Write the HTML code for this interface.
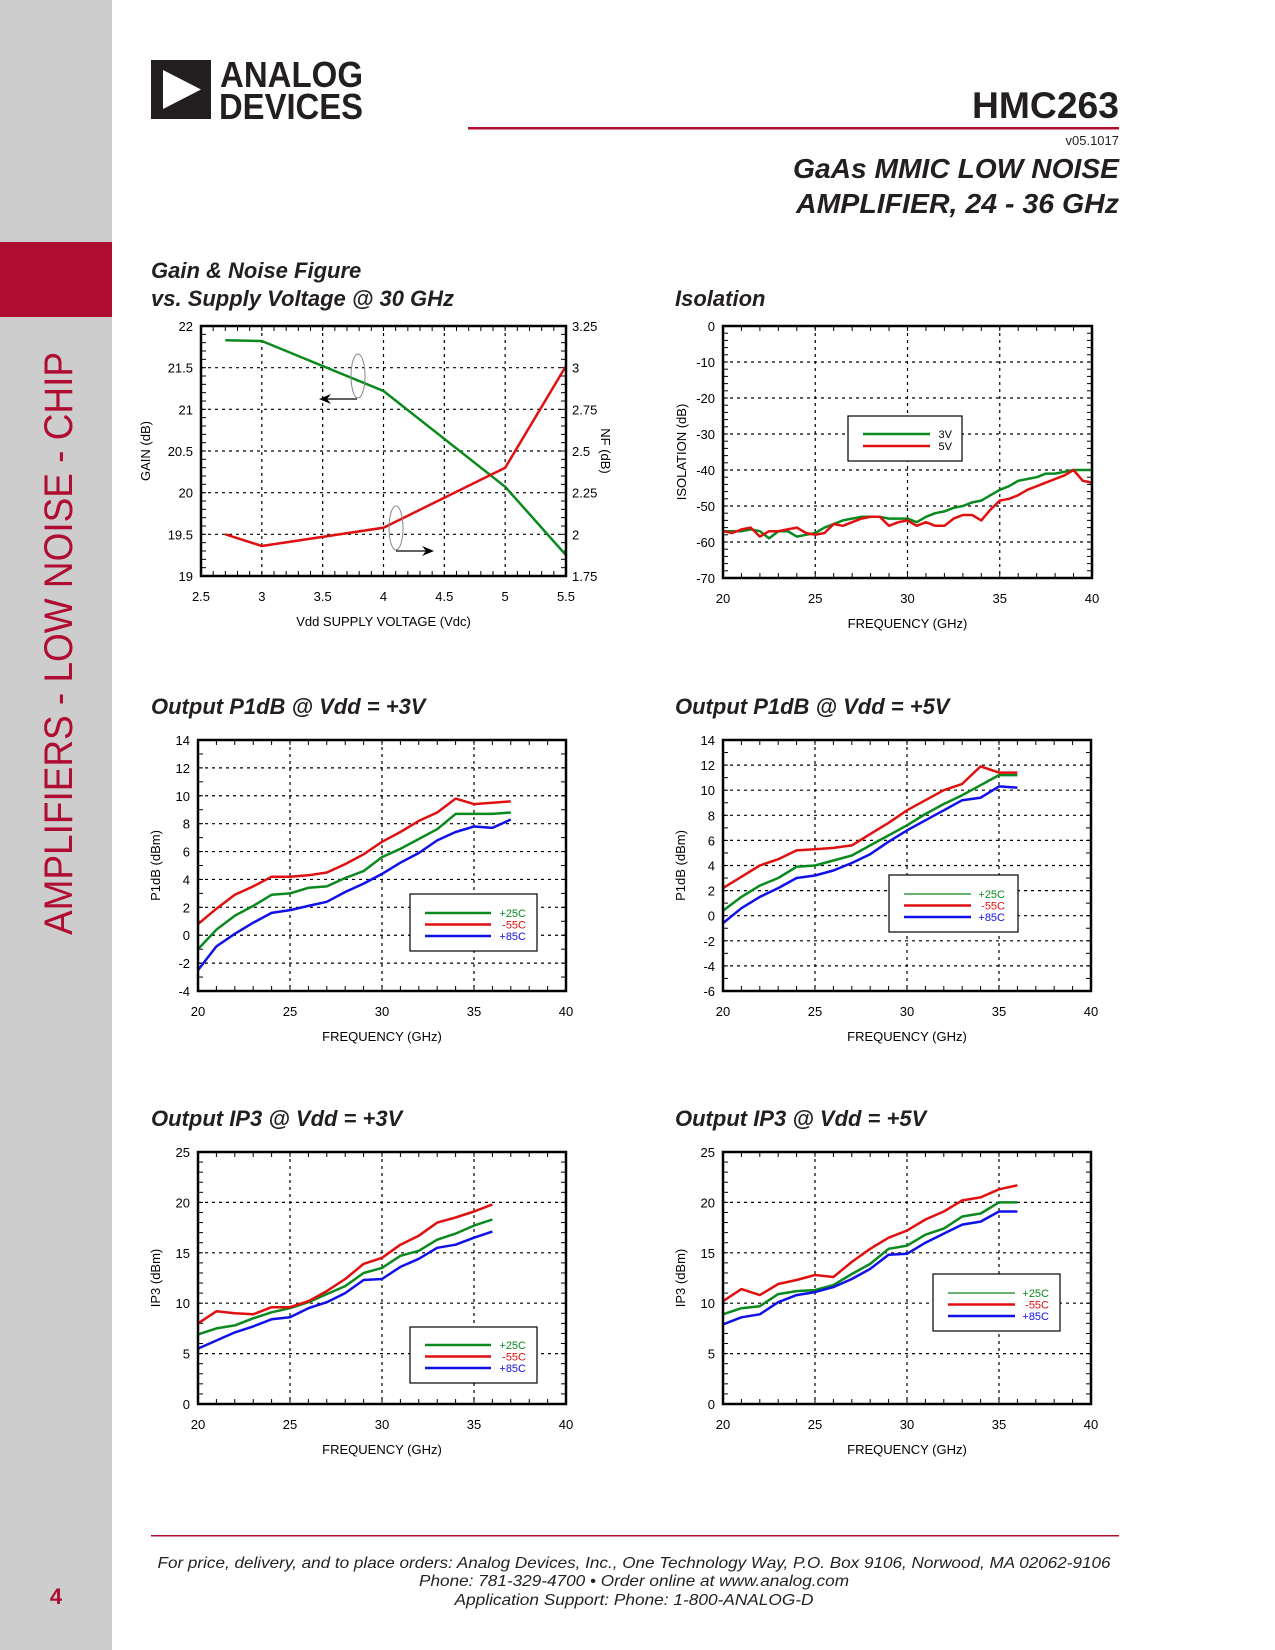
<!DOCTYPE html>
<html><head><meta charset="utf-8"><style>
body{margin:0;width:1275px;height:1650px;position:relative;background:#fff;font-family:"Liberation Sans",sans-serif;overflow:hidden}
svg{position:absolute;left:0;top:0}
</style></head><body>
<svg id="page" width="1275" height="1650" viewBox="0 0 1275 1650" font-family="Liberation Sans, sans-serif">
<rect x="0" y="0" width="112" height="1650" fill="#cdcdcd"/>
<rect x="0" y="242" width="112" height="75" fill="#b00d33"/>
<text transform="translate(72,935) rotate(-90)" font-size="40" fill="#b00d33" textLength="583" lengthAdjust="spacingAndGlyphs">AMPLIFIERS - LOW NOISE - CHIP</text>
<text x="56" y="1604" font-size="22" font-weight="bold" fill="#b00d33" text-anchor="middle">4</text>
<g>
<rect x="151" y="60" width="60" height="59" fill="#231f20"/>
<polygon points="163,70 163,109 201,89.5" fill="#fff"/>
<text x="220" y="87" font-size="36" font-weight="bold" fill="#231f20" textLength="143" lengthAdjust="spacingAndGlyphs">ANALOG</text>
<text x="219" y="119" font-size="36" font-weight="bold" fill="#231f20" textLength="144" lengthAdjust="spacingAndGlyphs">DEVICES</text>
</g>
<text x="1119" y="118" font-size="37" font-weight="bold" fill="#231f20" text-anchor="end" textLength="147" lengthAdjust="spacingAndGlyphs">HMC263</text>
<rect x="468" y="127" width="651" height="2.5" fill="#b00d33"/>
<text x="1119" y="145" font-size="13" fill="#231f20" text-anchor="end">v05.1017</text>
<text x="1119" y="178" font-size="28" font-weight="bold" font-style="italic" fill="#231f20" text-anchor="end" textLength="326" lengthAdjust="spacingAndGlyphs">GaAs MMIC LOW NOISE</text>
<text x="1119" y="213" font-size="28" font-weight="bold" font-style="italic" fill="#231f20" text-anchor="end" textLength="323" lengthAdjust="spacingAndGlyphs">AMPLIFIER, 24 - 36 GHz</text>
<text x="151" y="278" font-size="22" font-weight="bold" font-style="italic" fill="#231f20">Gain &amp; Noise Figure</text>
<text x="151" y="306" font-size="22" font-weight="bold" font-style="italic" fill="#231f20">vs. Supply Voltage @ 30 GHz</text>
<text x="675" y="306" font-size="22" font-weight="bold" font-style="italic" fill="#231f20">Isolation</text>
<text x="151" y="714" font-size="22" font-weight="bold" font-style="italic" fill="#231f20">Output P1dB @ Vdd = +3V</text>
<text x="675" y="714" font-size="22" font-weight="bold" font-style="italic" fill="#231f20">Output P1dB @ Vdd = +5V</text>
<text x="151" y="1126" font-size="22" font-weight="bold" font-style="italic" fill="#231f20">Output IP3 @ Vdd = +3V</text>
<text x="675" y="1126" font-size="22" font-weight="bold" font-style="italic" fill="#231f20">Output IP3 @ Vdd = +5V</text>
<rect x="151" y="1535" width="968" height="1.5" fill="#b00d33"/>
<g font-size="16" font-style="italic" fill="#231f20" text-anchor="middle">
<text x="634" y="1568" textLength="953" lengthAdjust="spacingAndGlyphs">For price, delivery, and to place orders: Analog Devices, Inc., One Technology Way, P.O. Box 9106, Norwood, MA 02062-9106</text>
<text x="634" y="1586" textLength="430" lengthAdjust="spacingAndGlyphs">Phone: 781-329-4700 • Order online at www.analog.com</text>
<text x="634" y="1605" textLength="359" lengthAdjust="spacingAndGlyphs">Application Support: Phone: 1-800-ANALOG-D</text>
</g>
<g id="charts"></g>
</svg>
<script>
// ---- Gain & NF ----
const gainVdd=[2.7,3,4,5,5.5];
const gainVals=[21.83,21.82,21.22,20.07,19.25];
const nfVals=[2.0,1.93,2.04,2.4,3.01];
const gainTicks=["19","19.5","20","20.5","21","21.5","22"];
const nfTicks=["1.75","2","2.25","2.5","2.75","3","3.25"];
const vddTicks=["2.5","3","3.5","4","4.5","5","5.5"];
// ---- Isolation ----
const isoFreq=[20,20.5,21,21.5,22,22.5,23,23.5,24,24.5,25,25.5,26,26.5,27,27.5,28,28.5,29,29.5,30,30.5,31,31.5,32,32.5,33,33.5,34,34.5,35,35.5,36,36.5,37,37.5,38,38.5,39,39.5,40];
const iso3V=[-57,-57,-57,-56.5,-57,-59,-57,-57,-58.5,-58,-57.5,-56,-55,-54,-53.5,-53,-53,-53,-53.5,-53.5,-53.5,-54.5,-53,-52,-51.5,-50.5,-50,-49,-48.5,-47,-45.5,-44.5,-43,-42.5,-42,-41,-41,-40.5,-40,-40,-40];
const iso5V=[-57,-57.5,-56.5,-56,-58.5,-57,-57,-56.5,-56,-57.5,-58,-57.5,-55,-55.5,-54.5,-53.5,-53,-53,-55.5,-54.5,-54,-55.5,-54.5,-55.5,-55.5,-53.5,-52.5,-52.5,-54,-51,-48.5,-48,-47,-45.5,-44.5,-43.5,-42.5,-41.5,-40,-43,-43.5];
const isoTicks=["-70","-60","-50","-40","-30","-20","-10","0"];
const freqTicks=["20","25","30","35","40"];
// ---- P1dB ----
const p1Freq3=[20,21,22,23,24,25,26,27,28,29,30,31,32,33,34,35,36,37];
const p1_3V_25=[-1,0.4,1.4,2.1,2.9,3,3.4,3.5,4.1,4.6,5.6,6.2,6.9,7.6,8.7,8.7,8.7,8.8];
const p1_3V_m55=[0.8,1.9,2.9,3.5,4.2,4.2,4.3,4.5,5.1,5.8,6.7,7.4,8.2,8.8,9.8,9.4,9.5,9.6];
const p1_3V_85=[-2.5,-0.8,0.1,0.9,1.6,1.8,2.1,2.4,3.1,3.7,4.4,5.2,5.9,6.8,7.4,7.8,7.7,8.3];
const p1Ticks3=["-4","-2","0","2","4","6","8","10","12","14"];
const p1Freq5=[20,21,22,23,24,25,26,27,28,29,30,31,32,33,34,35,36];
const p1_5V_25=[0.4,1.5,2.4,3,3.9,4,4.4,4.8,5.6,6.4,7.2,8.1,8.9,9.6,10.4,11.2,11.2];
const p1_5V_m55=[2.2,3.1,4,4.5,5.2,5.3,5.4,5.6,6.5,7.4,8.4,9.2,10,10.5,11.9,11.4,11.4];
const p1_5V_85=[-0.6,0.6,1.5,2.2,3,3.2,3.6,4.2,4.9,5.9,6.8,7.6,8.4,9.2,9.4,10.3,10.2];
const p1Ticks5=["-6","-4","-2","0","2","4","6","8","10","12","14"];
// ---- IP3 ----
const ipFreq=[20,21,22,23,24,25,26,27,28,29,30,31,32,33,34,35,36];
const ip_3V_25=[6.9,7.5,7.8,8.5,9.1,9.5,10.1,10.9,11.7,13,13.5,14.7,15.2,16.3,16.9,17.7,18.3];
const ip_3V_m55=[8,9.2,9,8.9,9.6,9.6,10.2,11.2,12.4,13.9,14.5,15.8,16.7,18,18.5,19.1,19.8];
const ip_3V_85=[5.5,6.3,7.1,7.7,8.4,8.6,9.5,10.1,11,12.3,12.4,13.6,14.4,15.5,15.8,16.5,17.1];
const ip_5V_25=[8.9,9.5,9.7,10.9,11.2,11.3,11.8,12.9,13.9,15.4,15.7,16.8,17.4,18.6,18.9,20,20];
const ip_5V_m55=[10.2,11.4,10.8,11.9,12.3,12.8,12.6,14.1,15.4,16.5,17.2,18.3,19.1,20.2,20.5,21.3,21.7];
const ip_5V_85=[7.9,8.6,8.9,10.1,10.8,11.1,11.6,12.4,13.4,14.8,14.9,16,16.9,17.8,18.1,19.1,19.1];
const ipTicks=["0","5","10","15","20","25"];
const tempLabels=["+25C","-55C","+85C"];

const NS="http://www.w3.org/2000/svg";
const root=document.getElementById('charts');
function mk(tag,attrs,parent){const e=document.createElementNS(NS,tag);for(const k in attrs)e.setAttribute(k,attrs[k]);(parent||root).appendChild(e);return e;}
const GREEN="#0a8a1e",RED="#e01010",BLUE="#1010e8";

function chart(o){
  const g=mk('g',{});
  
  
  const L=o.L,R=o.R,T=o.T,B=o.B;
  const xs=v=>L+(v-o.xmin)/(o.xmax-o.xmin)*(R-L);
  const ys=v=>B-(v-o.ymin)/(o.ymax-o.ymin)*(B-T);
  const xt=o.xTicks.map(Number), yt=o.yTicks.map(Number);
  xt.forEach((v,i)=>{
    if(i>0&&i<xt.length-1){const l=mk('line',{x1:xs(v),x2:xs(v),y1:T,y2:B,stroke:'#000','stroke-width':1.2,'stroke-dasharray':'3,4'},g);
      }
    const t=mk('text',{x:xs(v),y:B+25,'font-size':13,'text-anchor':'middle',fill:'#000'},g);t.textContent=o.xTicks[i];
    
  });
  yt.forEach((v,i)=>{
    if(i>0&&i<yt.length-1){const l=mk('line',{x1:L,x2:R,y1:ys(v),y2:ys(v),stroke:'#000','stroke-width':1.2,'stroke-dasharray':'3,4'},g);
      }
    const t=mk('text',{x:L-8,y:ys(v)+5,'font-size':13,'text-anchor':'end',fill:'#000'},g);t.textContent=o.yTicks[i];
    
  });
  const mx=o.minorX;
  for(let v=o.xmin;v<=o.xmax+1e-9;v+=mx){mk('line',{x1:xs(v),x2:xs(v),y1:B,y2:B-5,stroke:'#000','stroke-width':1},g);mk('line',{x1:xs(v),x2:xs(v),y1:T,y2:T+5,stroke:'#000','stroke-width':1},g);}
  const my=o.minorY;
  for(let v=o.ymin;v<=o.ymax+1e-9;v+=my){mk('line',{x1:L,x2:L+5,y1:ys(v),y2:ys(v),stroke:'#000','stroke-width':1},g);mk('line',{x1:R,x2:R-5,y1:ys(v),y2:ys(v),stroke:'#000','stroke-width':1},g);}
  o.series.forEach(s=>{
    const sy=s.ys||ys;
    const d=s.x.map((v,i)=>(i?'L':'M')+xs(v).toFixed(1)+','+sy(s.y[i]).toFixed(1)).join(' ');
    const p=mk('path',{d:d,fill:'none',stroke:s.color,'stroke-width':2.5,'stroke-linejoin':'round'},g);
    
  });
  const fr=mk('rect',{x:L,y:T,width:R-L,height:B-T,fill:'none',stroke:'#000','stroke-width':2.5},g);
  
  const xl=mk('text',{x:(L+R)/2,y:B+50,'font-size':13,'text-anchor':'middle',fill:'#000'},g);xl.textContent=o.xLabel;
  
  const yl=mk('text',{transform:`translate(${o.yLabelX},${(T+B)/2}) rotate(-90)`,'font-size':13,'text-anchor':'middle',fill:'#000'},g);yl.textContent=o.yLabel;
  
  if(o.legend){
    const lg=o.legend;
    const lgG=mk('g',{},g);
    
    mk('rect',{x:lg.x,y:lg.y,width:lg.w,height:lg.h,fill:'#fff',stroke:'#000','stroke-width':1.2},lgG);
    lg.items.forEach((it,i)=>{
      const yy=lg.ly+i*lg.dy;
      mk('line',{x1:lg.lx1,x2:lg.lx2,y1:yy,y2:yy,stroke:it.color,'stroke-width':it.w||2.5},lgG);
      const t=mk('text',{x:lg.tx,y:yy+4,'font-size':11,'text-anchor':'end',fill:it.tcolor||it.color},lgG);t.textContent=it.label;
      
    });
  }
  return {g,xs,ys};
}

const gc=chart({name:'gain-nf-chart',L:201,R:566,T:326,B:576,xmin:2.5,xmax:5.5,ymin:19,ymax:22,xTicks:vddTicks,yTicks:gainTicks,minorX:0.1,minorY:0.1,
  xLabel:'Vdd SUPPLY VOLTAGE (Vdc)',yLabel:'GAIN (dB)',yLabelX:150,
  series:[{name:'gain-line',x:gainVdd,y:gainVals,color:GREEN},
          {name:'nf-line',x:gainVdd,y:nfVals,color:RED,ys:v=>576-(v-1.75)/(1.5)*250}]});
nfTicks.forEach((lab,i)=>{const v=Number(lab);const t=mk('text',{x:572,y:576-(v-1.75)/1.5*250+5,'font-size':13,fill:'#000'},gc.g);t.textContent=lab;
  });
const nfl=mk('text',{transform:'translate(601,451) rotate(90)','font-size':13,'text-anchor':'middle',fill:'#000'},gc.g);nfl.textContent='NF (dB)';

mk('ellipse',{cx:358,cy:376,rx:7,ry:22,fill:'none',stroke:'#888','stroke-width':1},gc.g);
mk('line',{x1:357,y1:399,x2:324,y2:399,stroke:'#000','stroke-width':1.2},gc.g);
mk('polygon',{points:'319,399 331,394 327,399 331,404',fill:'#000'},gc.g);
mk('ellipse',{cx:396,cy:528,rx:7,ry:22,fill:'none',stroke:'#888','stroke-width':1},gc.g);
mk('line',{x1:396,y1:551,x2:429,y2:551,stroke:'#000','stroke-width':1.2},gc.g);
mk('polygon',{points:'434,551 422,546 426,551 422,556',fill:'#000'},gc.g);

chart({name:'isolation-chart',L:723,R:1092,T:326,B:578,xmin:20,xmax:40,ymin:-70,ymax:0,xTicks:freqTicks,yTicks:isoTicks,minorX:1,minorY:2,
  xLabel:'FREQUENCY (GHz)',yLabel:'ISOLATION (dB)',yLabelX:686,
  series:[{name:'isolation-3v-line',x:isoFreq,y:iso3V,color:GREEN},{name:'isolation-5v-line',x:isoFreq,y:iso5V,color:RED}],
  legend:{x:848,y:416,w:114,h:45,lx1:863,lx2:930,ly:434,dy:12,tx:952,items:[{label:'3V',color:GREEN,tcolor:'#000'},{label:'5V',color:RED,tcolor:'#000'}]}});

chart({name:'p1db-3v-chart',L:198,R:566,T:740,B:991,xmin:20,xmax:40,ymin:-4,ymax:14,xTicks:freqTicks,yTicks:p1Ticks3,minorX:1,minorY:1,
  xLabel:'FREQUENCY (GHz)',yLabel:'P1dB (dBm)',yLabelX:160,
  series:[{name:'p1db-3v-25c-line',x:p1Freq3,y:p1_3V_25,color:GREEN},{name:'p1db-3v-m55c-line',x:p1Freq3,y:p1_3V_m55,color:RED},{name:'p1db-3v-85c-line',x:p1Freq3,y:p1_3V_85,color:BLUE}],
  legend:{x:410,y:894,w:127,h:57,lx1:425,lx2:491,ly:913,dy:11.5,tx:526,items:[{label:tempLabels[0],color:GREEN},{label:tempLabels[1],color:RED},{label:tempLabels[2],color:BLUE}]}});

chart({name:'p1db-5v-chart',L:723,R:1091,T:740,B:991,xmin:20,xmax:40,ymin:-6,ymax:14,xTicks:freqTicks,yTicks:p1Ticks5,minorX:1,minorY:1,
  xLabel:'FREQUENCY (GHz)',yLabel:'P1dB (dBm)',yLabelX:685,
  series:[{name:'p1db-5v-25c-line',x:p1Freq5,y:p1_5V_25,color:GREEN},{name:'p1db-5v-m55c-line',x:p1Freq5,y:p1_5V_m55,color:RED},{name:'p1db-5v-85c-line',x:p1Freq5,y:p1_5V_85,color:BLUE}],
  legend:{x:889,y:875,w:129,h:57,lx1:904,lx2:971,ly:894,dy:11.5,tx:1005,items:[{label:tempLabels[0],color:GREEN,w:1.2},{label:tempLabels[1],color:RED},{label:tempLabels[2],color:BLUE}]}});

chart({name:'ip3-3v-chart',L:198,R:566,T:1152,B:1404,xmin:20,xmax:40,ymin:0,ymax:25,xTicks:freqTicks,yTicks:ipTicks,minorX:1,minorY:1,
  xLabel:'FREQUENCY (GHz)',yLabel:'IP3 (dBm)',yLabelX:160,
  series:[{name:'ip3-3v-25c-line',x:ipFreq,y:ip_3V_25,color:GREEN},{name:'ip3-3v-m55c-line',x:ipFreq,y:ip_3V_m55,color:RED},{name:'ip3-3v-85c-line',x:ipFreq,y:ip_3V_85,color:BLUE}],
  legend:{x:410,y:1327,w:127,h:56,lx1:425,lx2:491,ly:1345,dy:11.5,tx:526,items:[{label:tempLabels[0],color:GREEN},{label:tempLabels[1],color:RED},{label:tempLabels[2],color:BLUE}]}});

chart({name:'ip3-5v-chart',L:723,R:1091,T:1152,B:1404,xmin:20,xmax:40,ymin:0,ymax:25,xTicks:freqTicks,yTicks:ipTicks,minorX:1,minorY:1,
  xLabel:'FREQUENCY (GHz)',yLabel:'IP3 (dBm)',yLabelX:685,
  series:[{name:'ip3-5v-25c-line',x:ipFreq,y:ip_5V_25,color:GREEN},{name:'ip3-5v-m55c-line',x:ipFreq,y:ip_5V_m55,color:RED},{name:'ip3-5v-85c-line',x:ipFreq,y:ip_5V_85,color:BLUE}],
  legend:{x:933,y:1274,w:127,h:57,lx1:948,lx2:1015,ly:1293,dy:11.5,tx:1049,items:[{label:tempLabels[0],color:GREEN,w:1.2},{label:tempLabels[1],color:RED},{label:tempLabels[2],color:BLUE}]}});
</script>
</body></html>
